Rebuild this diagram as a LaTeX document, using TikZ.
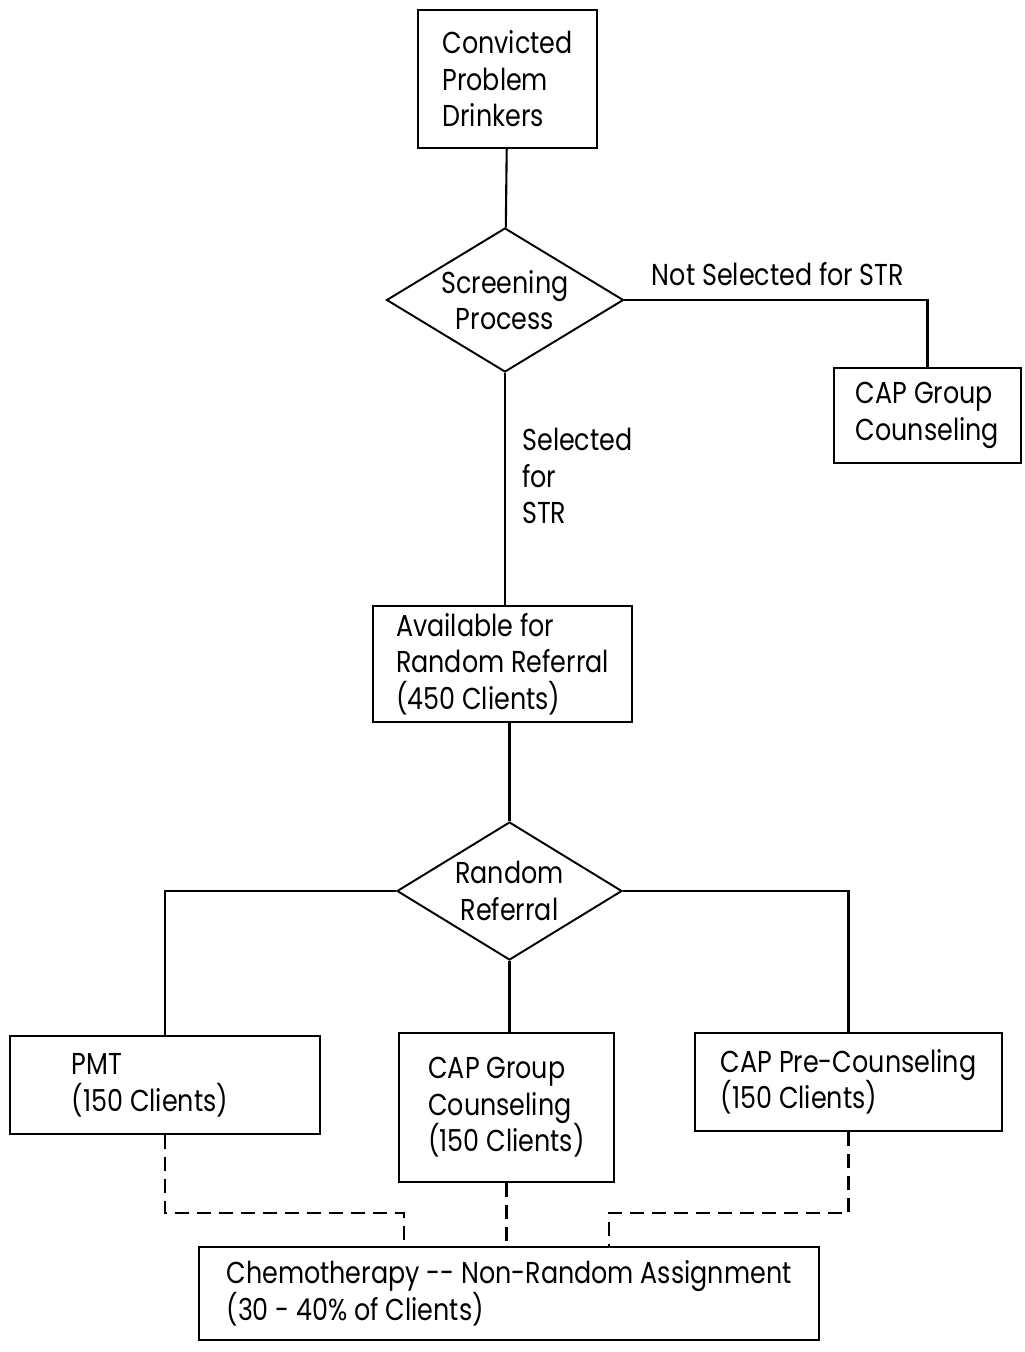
\documentclass[tikz,border=0pt]{standalone}
\usepackage{fontspec}
\setmainfont[FakeStretch=0.84]{Poppins}
\usetikzlibrary{shapes.geometric}
\tikzset{boxnode/.style={rectangle, draw=black, line width=1.1pt, align=left, inner sep=0pt},
  decnode/.style={diamond, draw=black, line width=1.1pt, inner sep=0pt},
  txtnode/.style={align=center, inner sep=0pt},
  link/.style={line width=1.2pt},
  dashlink/.style={line width=1.2pt, dash pattern=on 2.8mm off 1.6mm},}

\begin{document}
\begin{tikzpicture}[x=0.2mm, y=-0.2mm, font=\fontsize{17.2}{20.8}\selectfont]
\useasboundingbox (0,0) rectangle (1025,1352);
\node [boxnode, minimum width=35.8mm, minimum height=27.6mm] (drinkers) at (507.5,79) {Convicted\\Problem\\Drinkers};
\node [decnode, minimum width=47.4mm, minimum height=28.8mm] (screen) at (505,300) {};
\node [txtnode] (screentxt) at (505,300) {Screening\\Process};
\node [boxnode, minimum width=37.4mm, minimum height=19mm] (capone) at (927.5,415.5) {CAP Group\\Counseling};
\node [boxnode, minimum width=51.8mm, minimum height=23.2mm] (avail) at (502.5,664) {Available for\\Random Referral\\(450 Clients)};
\node [decnode, minimum width=45mm, minimum height=27.6mm] (rand) at (509.5,891) {};
\node [txtnode] (randtxt) at (509.5,891) {Random\\Referral};
\node [boxnode, minimum width=62mm, minimum height=19.6mm] (pmt) at (165,1085) {PMT\hspace*{22mm}\\(150 Clients)\hspace*{6mm}};
\node [boxnode, minimum width=43mm, minimum height=29.8mm] (capgrp) at (506.5,1107.5) {CAP Group\\Counseling\\(150 Clients)};
\node [boxnode, minimum width=61.4mm, minimum height=19.6mm] (pre) at (848.5,1082) {CAP Pre-Counseling\\(150 Clients)};
\node [boxnode, minimum width=124mm, minimum height=18.6mm] (chemo) at (509,1293.5) {Chemotherapy -{}- Non-Random Assignment\\(30 - 40\% of Clients)};

% labels on the screening branches
\node [txtnode] (notsel) at (778,274) {Not Selected for STR};
\node [txtnode, align=left, anchor=west] (sel) at (522,476) {Selected\\for\\STR};

% joints for the dashed lines
\coordinate (jl) at (404,1213);
\coordinate (jr) at (609,1213);

\draw[link] (drinkers) -- (screen);
\draw[link] (screen.east) -| (capone.north);
\draw[link] (screen.south) -- (screen.south |- avail.north);
\draw[link] (rand.north |- avail.south) -- (rand.north);
\draw[link] (rand.west) -| (pmt.north);
\draw[link] (rand.east) -| (pre.north);
\draw[link] (rand.south) -- (rand.south |- capgrp.north);
\draw[dashlink] (pmt.south) |- (jl) -- (jl |- chemo.north);
\draw[dashlink] (capgrp.south) -- (capgrp.south |- chemo.north);
\draw[dashlink] (pre.south) |- (jr) -- (jr |- chemo.north);
\end{tikzpicture}
\end{document}
